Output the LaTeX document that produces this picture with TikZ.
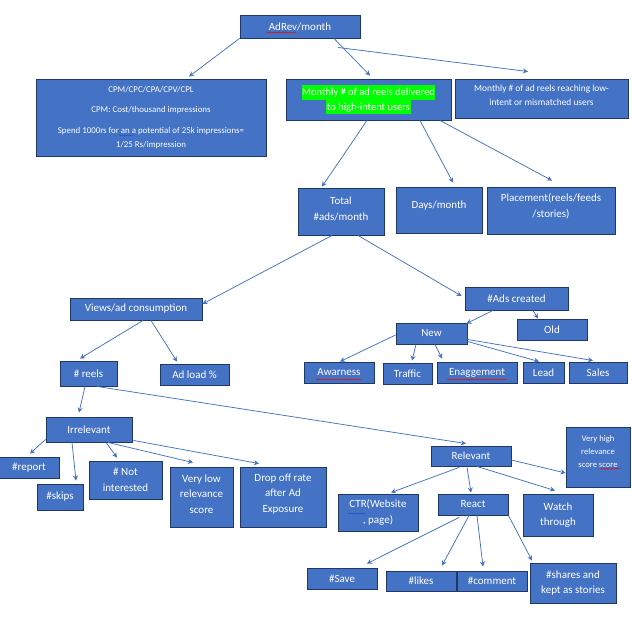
\documentclass[tikz,border=0pt]{standalone}
\usepackage{fontspec}
\setmainfont{Carlito}
\usetikzlibrary{arrows.meta,calc,decorations.pathmorphing}
\definecolor{boxfill}{HTML}{4472C4}
\definecolor{boxline}{HTML}{203864}
\definecolor{arrowblue}{HTML}{4472C4}
\definecolor{hlgreen}{HTML}{00FF00}
\definecolor{spellred}{HTML}{E01010}
\definecolor{spellblue}{HTML}{2050D0}
\newcommand{\greenmark}[1]{{\setlength{\fboxsep}{0.5pt}\colorbox{hlgreen}{\vrule height 10pt depth 3.5pt width 0pt #1}}}
\begin{document}
\begin{tikzpicture}[x=1pt,y=-1pt,
  box/.style={draw=boxline, fill=boxfill, line width=0.9pt, text=white, align=center,
    inner sep=1pt, font=\fontsize{11}{15.5}\selectfont},
  smalltxt/.style={font=\fontsize{8.6}{13}\selectfont},
  arr/.style={draw=arrowblue, line width=0.75pt, -{Stealth[length=5pt,width=5pt]}},
  squig/.style={draw=spellred, line width=0.5pt, decorate,
    decoration={snake, amplitude=0.6pt, segment length=2.5pt}},
  squigb/.style={squig, draw=spellblue}]
\useasboundingbox (0,0) rectangle (632,621);
\fill[white] (0,0) rectangle (632,621);

% level 0-1
\node[box, minimum width=120pt, minimum height=23pt] (adrev) at (300,26.5) {AdRev/month};
\node[box, minimum width=230pt, minimum height=77pt, font=\fontsize{8.85}{14}\selectfont] (cpm) at (151,117.5)
  {CPM/CPC/CPA/CPV/CPL\\[6pt] CPM: Cost/thousand impressions\\[7pt]
   Spend 1000rs for an a potential of 25k impressions=\\ 1/25 Rs/impression};
\node[box, minimum width=165pt, minimum height=41pt, font=\fontsize{10.5}{14.5}\selectfont] (high) at (368.5,99.5)
  {\greenmark{Monthly \# of ad reels delivered}\\\greenmark{to high-intent users}};
\node[box, font=\fontsize{9.4}{14}\selectfont, minimum width=173pt, minimum height=39pt, text depth=6pt] (low) at (541.5,98.5)
  {Monthly \# of ad reels reaching low-\\intent or mismatched users};

% level 2
\node[box, minimum width=86pt, minimum height=47pt, text depth=5.5pt] (total) at (341,211.5) {Total\\\#ads/month};
\node[box, minimum width=86pt, minimum height=46pt, text depth=11pt] (days) at (439,210) {Days/month};
\node[box, minimum width=128pt, minimum height=47pt, text depth=10pt] (place) at (551,210.5) {Placement(reels/feeds\\/stories)};

% ads created branch
\node[box, minimum width=103pt, minimum height=23pt] (adsc) at (516.5,298.5) {\#Ads created};
\node[box, minimum width=70pt, minimum height=21pt] (old) at (552,329.5) {Old};
\node[box, minimum width=71pt, minimum height=21pt] (new) at (431.5,333.5) {New};
\node[box, minimum width=70pt, minimum height=21pt] (awar) at (339,372.5) {Awarness};
\node[box, minimum width=49pt, minimum height=21pt] (traffic) at (407.5,373.5) {Traffic};
\node[box, minimum width=80pt, minimum height=21pt] (eng) at (477,372.5) {Enaggement};
\node[box, minimum width=41pt, minimum height=21pt] (lead) at (543.5,372.5) {Lead};
\node[box, minimum width=58pt, minimum height=21pt] (sales) at (598,372.5) {Sales};

% views branch
\node[box, minimum width=132pt, minimum height=22pt] (views) at (136,309) {Views/ad consumption};
\node[box, minimum width=57pt, minimum height=25pt] (reels) at (88.5,373.5) {\# reels};
\node[box, minimum width=69pt, minimum height=21pt] (adload) at (194.5,374.5) {Ad load \%};
\node[box, minimum width=86pt, minimum height=25pt] (irr) at (89,429.5) {Irrelevant};
\node[box, minimum width=60pt, minimum height=21pt] (report) at (29,467.5) {\#report};
\node[box, minimum width=46pt, minimum height=26pt] (skips) at (60,497) {\#skips};
\node[box, minimum width=73pt, minimum height=38pt] (notint) at (125.5,480) {\# Not\\interested};
\node[box, minimum width=63pt, minimum height=60pt, text depth=6pt] (vlow) at (201.5,497) {Very low\\relevance\\score};
\node[box, minimum width=86pt, minimum height=60pt, text depth=8pt] (drop) at (283,497) {Drop off rate\\after Ad\\Exposure};

% relevant branch
\node[box, minimum width=80pt, minimum height=20pt] (relevant) at (471,456) {Relevant};
\node[box, smalltxt, minimum width=64pt, minimum height=60pt, text depth=10pt] (vhigh) at (598,457) {Very high\\relevance\\score score};
\node[box, minimum width=80pt, minimum height=37pt] (ctr) at (378,512.5) {CTR(Website\\, page)};
\node[box, minimum width=70pt, minimum height=21pt] (react) at (473,504.5) {React};
\node[box, minimum width=70pt, minimum height=42pt] (watch) at (558,515) {Watch\\through};
\node[box, minimum width=70pt, minimum height=21pt] (save) at (342,578.5) {\#Save};
\node[box, minimum width=70pt, minimum height=20pt] (likes) at (421,581) {\#likes};
\node[box, minimum width=70pt, minimum height=20pt] (comment) at (492,581) {\#comment};
\node[box, minimum width=86pt, minimum height=40pt] (shares) at (573,583) {\#shares and\\kept as stories};

% connectors
\draw[arr] (adrev.south west) -- ($(cpm.north)+(38,-2)$);
\draw[arr] ($(adrev.south)+(34,0)$) -- ($(high.north)+(1.5,-3)$);
\draw[arr] ($(adrev.south)+(38,9)$) -- ($(low.north)+(-13.5,-7)$);
\draw[arr] ($(high.south)+(-1.5,0)$) -- ($(total.north)+(-19,-1)$);
\draw[arr] ($(high.south)+(51.5,0)$) -- ($(days.north)+(14,-4)$);
\draw[arr] ($(high.south)+(71.5,0)$) -- ($(place.north)+(1,-6)$);
\draw[arr] ($(total.south)+(-9,0)$) -- ($(views.east)+(0,-5)$);
\draw[arr] ($(total.south)+(17,0)$) -- ($(adsc.west)+(-3,-2.5)$);
\draw[arr] ($(adsc.south)+(-23.5,0)$) -- ($(new.north east)+(-1,1)$);
\draw[arr] ($(adsc.south)+(16.5,0)$) -- ($(old.north)+(-14,0)$);
\draw[arr] ($(new.west)+(0,1.5)$) -- ($(awar.north)+(1,0)$);
\draw[arr] ($(new.south)+(-15.5,0)$) -- ($(traffic.north)+(4.5,-2)$);
\draw[arr] ($(new.south)+(3.5,0)$) -- ($(eng.north)+(-35,-3)$);
\draw[arr] ($(new.south east)+(0,-3)$) -- ($(lead.north)+(-4.5,0)$);
\draw[arr] ($(new.south east)+(0,-5)$) -- ($(sales.north)+(-5,-1)$);
\draw[arr] ($(views.south)+(7,0)$) -- ($(reels.north)+(-8.5,-2)$);
\draw[arr] ($(views.south)+(15,0)$) -- ($(adload.north)+(-17.5,-2)$);
\draw[arr] ($(reels.south)+(-3.5,0)$) -- ($(irr.north)+(-10,-4)$);
\draw[arr] ($(reels.south)+(8.5,0)$) -- ($(relevant.north)+(-5,-2)$);
\draw[arr] ($(irr.south west)+(0,-3)$) -- ($(report.north)+(1,-3)$);
\draw[arr] ($(irr.south)+(-17,0)$) -- ($(skips.north)+(16,-3)$);
\draw[arr] ($(irr.south)+(17,0)$) -- ($(notint.north)+(-8.5,-3)$);
\draw[arr] ($(irr.south)+(19,0)$) -- ($(vlow.north)+(-8.5,-4)$);
\draw[arr] ($(irr.south east)+(1,-2)$) -- ($(drop.north)+(-24,-3)$);
\draw[arr] ($(relevant.east)+(0,4)$) -- ($(vhigh.west)+(0,16)$);
\draw[arr] ($(relevant.south)+(-12,1)$) -- ($(ctr.north)+(13,-1)$);
\draw[arr] ($(relevant.south)+(-4,1)$) -- ($(react.north)+(-2,-1)$);
\draw[arr] ($(relevant.south)+(6,0)$) -- ($(watch.north)+(-3,-3)$);
\draw[arr] ($(react.south)+(-14,2)$) -- ($(save.north)+(25,-4)$);
\draw[arr] ($(react.south)+(-4,0)$) -- ($(likes.north)+(21,-5)$);
\draw[arr] ($(react.south)+(4,0)$) -- ($(comment.north)+(-9,-4)$);
\draw[arr] (react.south east) -- ($(shares.north)+(-41,-2)$);

% spell-check marks
\draw[squig] (266,32.5) -- (296,32.5);
\draw[squig] (316,379.5) -- (362,379.5);
\draw[squig] (447,379.5) -- (507,379.5);
\draw[squig] (600,468.5) -- (620,468.5);
\draw[squigb] (119,135.5) -- (134,135.5);
\draw[squigb] (348,513.5) -- (365,513.5);
\end{tikzpicture}
\end{document}
